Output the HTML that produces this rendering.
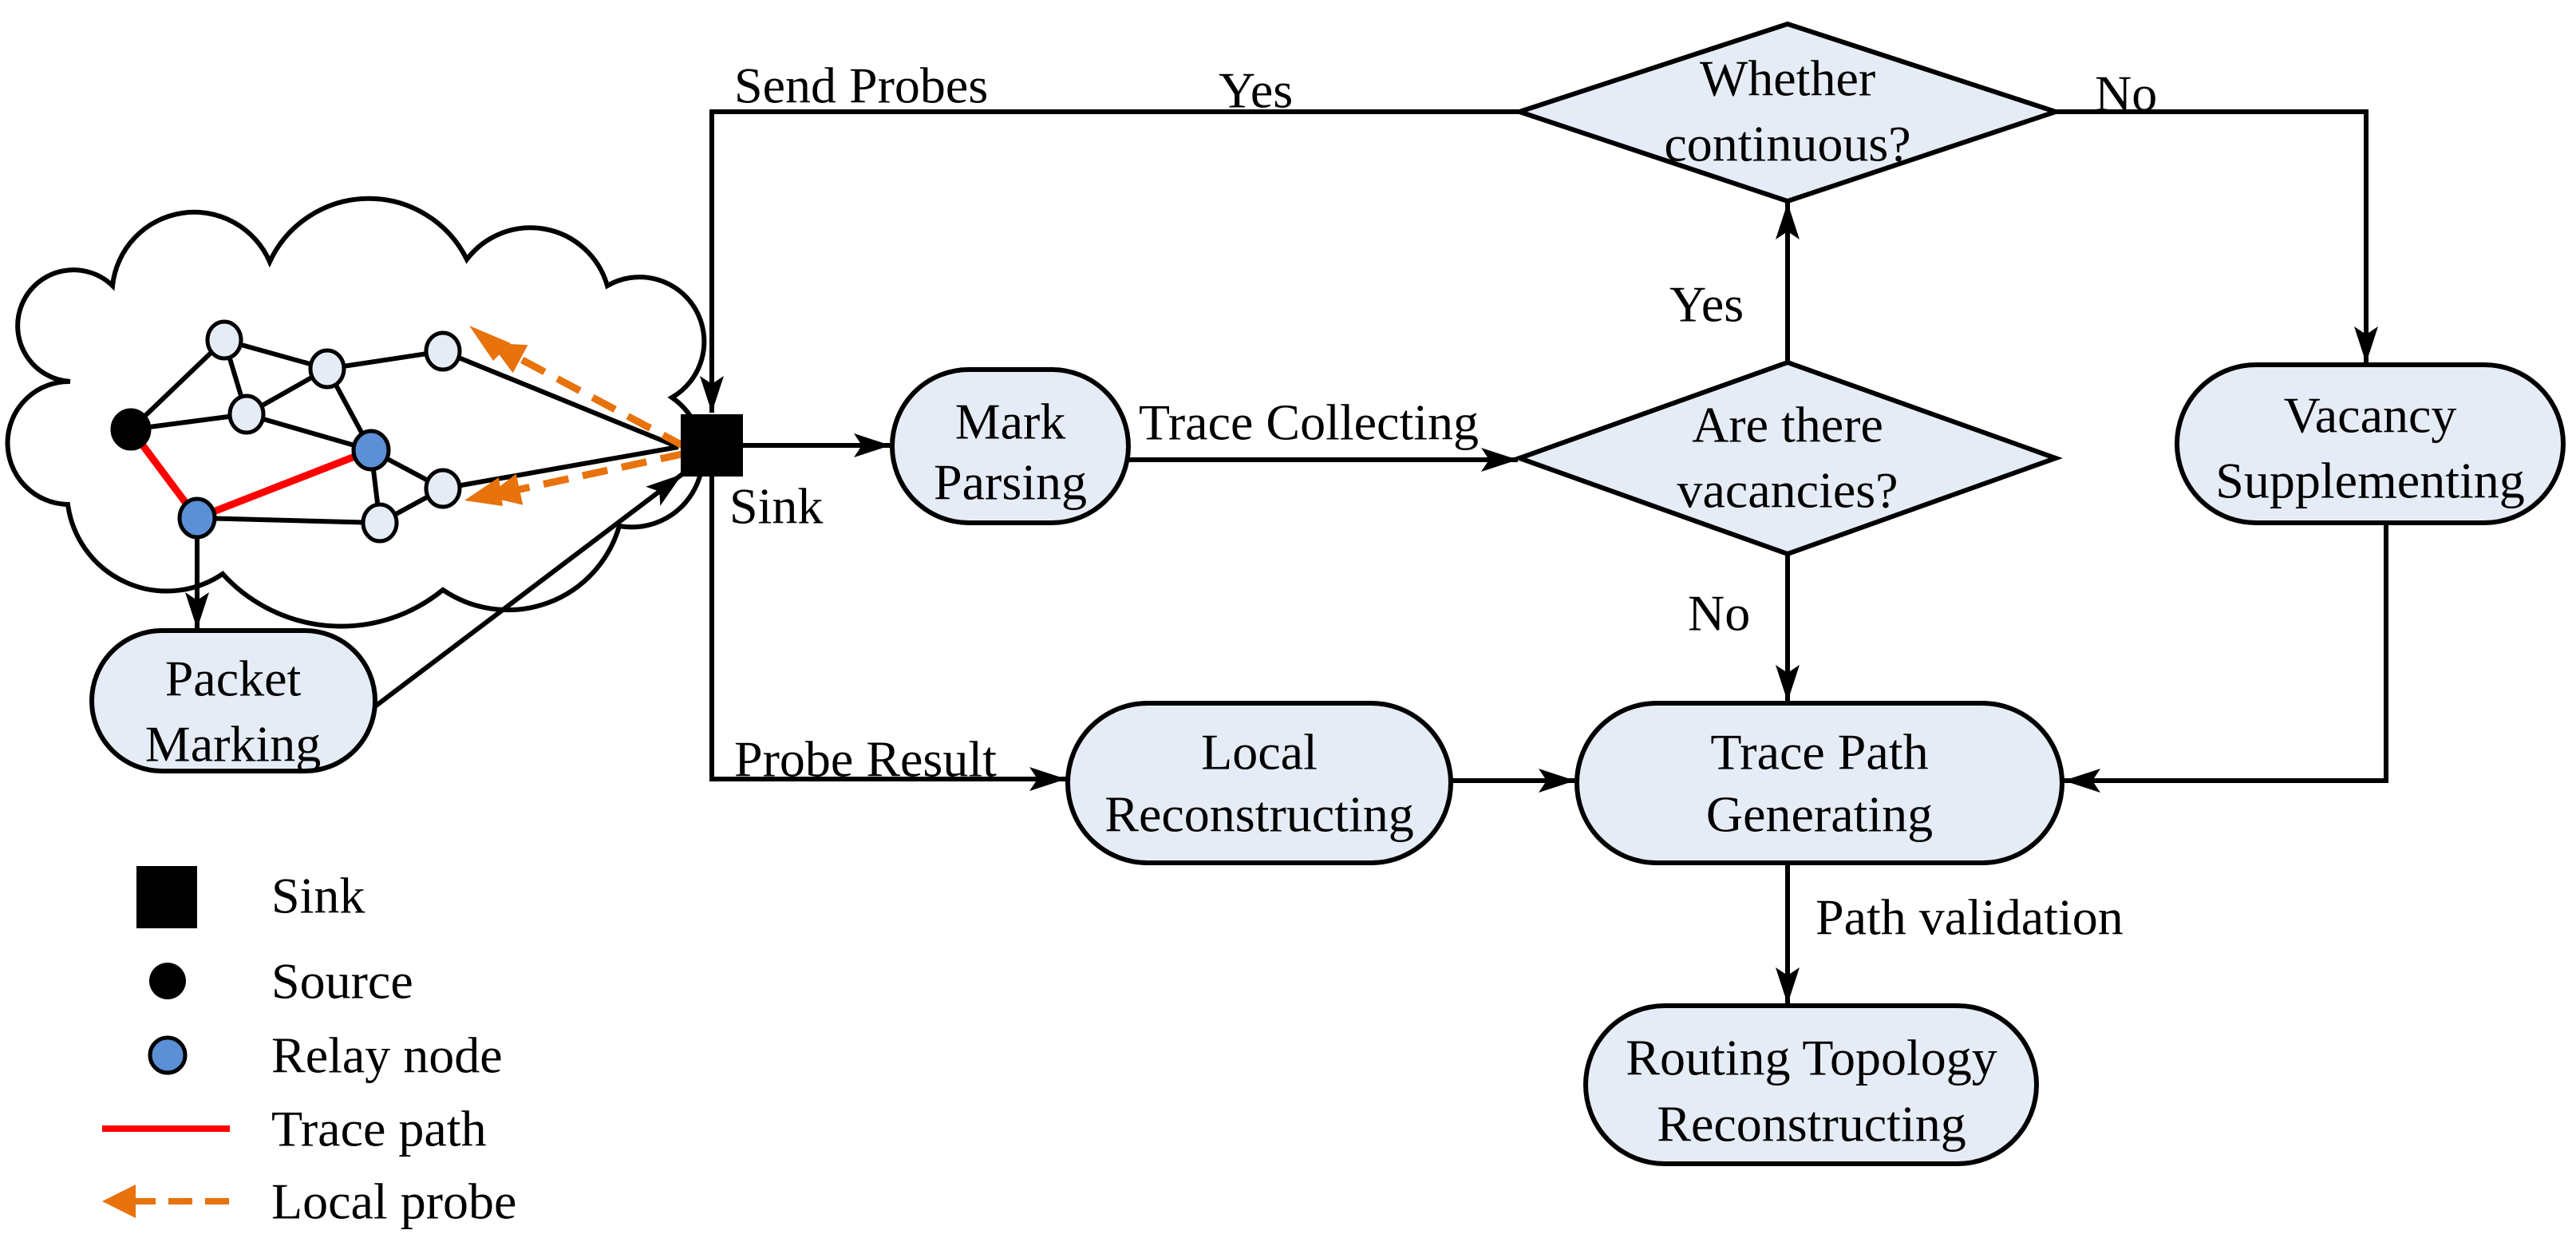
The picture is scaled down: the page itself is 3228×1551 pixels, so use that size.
<!DOCTYPE html>
<html><head><meta charset="utf-8"><style>
html,body{margin:0;padding:0;background:#fff;width:3228px;height:1551px;overflow:hidden}
svg text{font-family:"Liberation Serif",serif;font-size:64px;fill:#000}
</style></head><body>
<svg width="3228" height="1551" viewBox="0 0 3228 1551" xmlns="http://www.w3.org/2000/svg">
<defs>
<marker id="a" markerWidth="10" markerHeight="10" refX="0" refY="0" orient="auto" markerUnits="userSpaceOnUse" style="overflow:visible">
<path d="M-46,-15 L0,0 L-46,15 L-36,0 Z" fill="#000"/>
</marker>
<marker id="o" markerWidth="10" markerHeight="10" refX="0" refY="0" orient="auto" markerUnits="userSpaceOnUse" style="overflow:visible">
<path d="M0,0 L-42,-20 L-42,20 Z" fill="#e8720c"/>
</marker>
</defs>
<g stroke="#000" stroke-width="6" fill="none">
<!-- cloud -->
<path d="M88,478 A70,70 0 1 1 141,358 A103,103 0 0 1 338,328 A137,137 0 0 1 585,325 A100,100 0 0 1 761,358 A80,80 0 1 1 842,498 A89,89 0 0 1 776,659 A145,145 0 0 1 555,739 A201,201 0 0 1 279,719 A125,125 0 0 1 85,632 A77,77 0 0 1 88,478 Z" fill="#fff"/>
<!-- edges -->
<line x1="164" y1="538" x2="281" y2="426"/>
<line x1="164" y1="538" x2="309" y2="519"/>
<line x1="281" y1="426" x2="410" y2="462"/>
<line x1="281" y1="426" x2="309" y2="519"/>
<line x1="410" y1="462" x2="309" y2="519"/>
<line x1="410" y1="462" x2="555" y2="440"/>
<line x1="410" y1="462" x2="465" y2="564"/>
<line x1="309" y1="519" x2="465" y2="564"/>
<line x1="465" y1="564" x2="555" y2="612"/>
<line x1="465" y1="564" x2="476" y2="655"/>
<line x1="555" y1="612" x2="476" y2="655"/>
<line x1="247" y1="649" x2="476" y2="655"/>
<line x1="555" y1="440" x2="850" y2="560"/>
<line x1="555" y1="612" x2="850" y2="560"/>
<line x1="164" y1="538" x2="247" y2="649" stroke="#f00" stroke-width="9"/>
<line x1="247" y1="649" x2="465" y2="564" stroke="#f00" stroke-width="9"/>
</g>
<!-- orange probes -->
<g stroke="#e8720c" stroke-width="9" stroke-dasharray="32,18" fill="none">
<line x1="859" y1="560" x2="615" y2="430" marker-end="url(#o)"/>
<line x1="859" y1="568" x2="610" y2="622" marker-end="url(#o)"/>
</g>
<path d="M588,408 L640,430 L618,452 Z" fill="#e8720c"/>
<path d="M582,627 L625,598 L630,634 Z" fill="#e8720c"/>
<!-- nodes -->
<g stroke="#000" stroke-width="5">
<ellipse cx="281" cy="426" rx="21" ry="23" fill="#e6ecf6"/>
<ellipse cx="410" cy="462" rx="21" ry="23" fill="#e6ecf6"/>
<ellipse cx="555" cy="440" rx="21" ry="23" fill="#e6ecf6"/>
<ellipse cx="309" cy="519" rx="21" ry="23" fill="#e6ecf6"/>
<ellipse cx="555" cy="612" rx="21" ry="23" fill="#e6ecf6"/>
<ellipse cx="476" cy="655" rx="21" ry="23" fill="#e6ecf6"/>
<ellipse cx="164" cy="538" rx="23" ry="24" fill="#000"/>
<ellipse cx="465" cy="564" rx="22" ry="24" fill="#5b8fd6"/>
<ellipse cx="247" cy="649" rx="22" ry="24" fill="#5b8fd6"/>
</g>
<!-- sink -->
<rect x="853" y="519" width="78" height="78" fill="#000"/>
<g stroke="#000" stroke-width="6" fill="none">
<polyline points="1904,140 892,140 892,517" marker-end="url(#a)"/>
<polyline points="892,597 892,976 1336,976" marker-end="url(#a)"/>
<line x1="931" y1="558" x2="1116" y2="558" marker-end="url(#a)"/>
<line x1="1414" y1="576" x2="1902" y2="576" marker-end="url(#a)"/>
<line x1="247" y1="673" x2="247" y2="788" marker-end="url(#a)"/>
<line x1="470" y1="885" x2="855" y2="594" marker-end="url(#a)"/>
<line x1="2240" y1="454" x2="2240" y2="254" marker-end="url(#a)"/>
<line x1="2240" y1="694" x2="2240" y2="879" marker-end="url(#a)"/>
<polyline points="2576,140 2965,140 2965,455" marker-end="url(#a)"/>
<polyline points="2990,655 2990,978 2586,978" marker-end="url(#a)"/>
<line x1="1818" y1="978" x2="1974" y2="978" marker-end="url(#a)"/>
<line x1="2240" y1="1081" x2="2240" y2="1258" marker-end="url(#a)"/>
</g>
<g stroke="#000" stroke-width="6" fill="#e6ecf6">
<polygon points="1904,140 2240,30 2576,140 2240,252"/>
<polygon points="1904,574 2240,454 2576,574 2240,694"/>
<rect x="115" y="790" width="355" height="176" rx="88"/>
<rect x="1118" y="463" width="296" height="192" rx="96"/>
<rect x="2728" y="457" width="484" height="198" rx="99"/>
<rect x="1338" y="881" width="480" height="200" rx="100"/>
<rect x="1976" y="881" width="608" height="200" rx="100"/>
<rect x="1987" y="1260" width="565" height="198" rx="99"/>
</g>
<g text-anchor="middle" dominant-baseline="central">
<text x="2240" y="98">Whether</text><text x="2240" y="180">continuous?</text>
<text x="2240" y="532">Are there</text><text x="2240" y="614">vacancies?</text>
<text x="292" y="850">Packet</text><text x="292" y="932">Marking</text>
<text x="1266" y="528">Mark</text><text x="1266" y="604">Parsing</text>
<text x="2970" y="520">Vacancy</text><text x="2970" y="602">Supplementing</text>
<text x="1578" y="942">Local</text><text x="1578" y="1020">Reconstructing</text>
<text x="2280" y="942">Trace Path</text><text x="2280" y="1020">Generating</text>
<text x="2270" y="1325">Routing Topology</text><text x="2270" y="1408">Reconstructing</text>
</g>
<g dominant-baseline="central">
<text x="920" y="107">Send Probes</text>
<text x="1527" y="113">Yes</text>
<text x="2625" y="117">No</text>
<text x="914" y="634">Sink</text>
<text x="1427" y="529">Trace Collecting</text>
<text x="2092" y="381">Yes</text>
<text x="2115" y="768">No</text>
<text x="920" y="951">Probe Result</text>
<text x="2275" y="1149">Path validation</text>
<text x="340" y="1122">Sink</text>
<text x="340" y="1229">Source</text>
<text x="340" y="1322">Relay node</text>
<text x="340" y="1414">Trace path</text>
<text x="340" y="1505">Local probe</text>
</g>
<rect x="171" y="1085" width="76" height="78" fill="#000"/>
<circle cx="210" cy="1229" r="23" fill="#000"/>
<circle cx="210" cy="1322" r="22" fill="#5b8fd6" stroke="#000" stroke-width="5"/>
<line x1="128" y1="1414" x2="288" y2="1414" stroke="#f00" stroke-width="8"/>
<line x1="165" y1="1505" x2="288" y2="1505" stroke="#e8720c" stroke-width="8" stroke-dasharray="30,16"/>
<path d="M128,1505 L170,1484 L170,1526 Z" fill="#e8720c"/>
</svg>
</body></html>
